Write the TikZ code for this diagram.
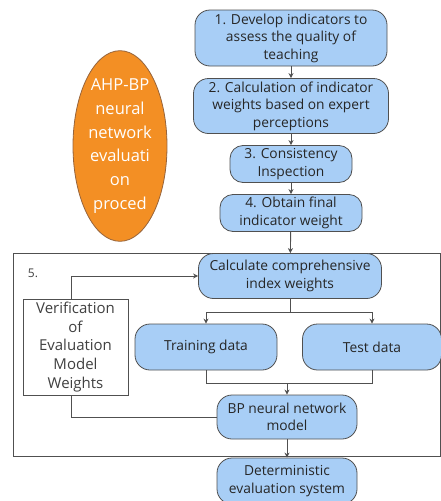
\documentclass[tikz,border=0pt]{standalone}
\usepackage{fontspec}
\setmainfont{Open Sans}
\usetikzlibrary{shapes.geometric,arrows.meta}
\definecolor{boxblue}{RGB}{168,206,246}
\definecolor{edgegray}{RGB}{80,80,80}
\definecolor{orangefill}{RGB}{243,143,36}
\definecolor{orangeedge}{RGB}{150,100,60}
\tikzset{
  stepbox/.style={draw=edgegray, line width=0.8pt, fill=boxblue, rounded corners=15pt,
    align=center, inner sep=0pt, font=\fontsize{13.8}{17.5}\selectfont, text=black!85},
  conn/.style={draw=edgegray, line width=0.9pt},
  arr/.style={conn, -{Stealth[length=5pt,width=5pt]}},
}
\begin{document}
\begin{tikzpicture}[x=1pt,y=-1pt]
\useasboundingbox (0,0) rectangle (441,501);
\clip (0,0) rectangle (441,501);
% outer frame
\draw[edgegray, line width=0.9pt] (13,253) rectangle (440.5,456);
\node[font=\fontsize{12}{14}\selectfont\rmfamily, text=black!75] (five) at (33,273) {5.};
% main steps
\node[stepbox, minimum width=192pt, minimum height=56pt] (s1) at (291,38) {1. Develop indicators to\\assess the quality of\\teaching};
\node[stepbox, minimum width=195pt, minimum height=55pt] (s2) at (291,106) {2. Calculation of indicator\\weights based on expert\\perceptions};
\node[stepbox, minimum width=122pt, minimum height=37pt, rounded corners=13pt] (s3) at (291,164) {3. Consistency\\Inspection};
\node[stepbox, minimum width=142pt, minimum height=37pt, rounded corners=13pt] (s4) at (291,213) {4. Obtain final\\indicator weight};
\node[stepbox, minimum width=183pt, minimum height=45pt] (calc) at (290,276) {Calculate comprehensive\\index weights};
\node[stepbox, minimum width=142pt, minimum height=46pt] (train) at (206,347) {Training data};
\node[stepbox, minimum width=139pt, minimum height=46pt] (test) at (372,347) {Test data};
\node[stepbox, minimum width=140pt, minimum height=44pt] (bp) at (287,417) {BP neural network\\model};
\node[stepbox, minimum width=140pt, minimum height=46pt] (det) at (287,481) {Deterministic\\evaluation system};
% verification box
\node[draw=edgegray, line width=0.8pt, fill=white, minimum width=105pt, minimum height=96pt,
  inner sep=0pt, align=center, font=\fontsize{15}{18.8}\selectfont, text=black!75] (ver) at (75.5,347)
  {Verification\\of\\Evaluation\\Model\\Weights};
% orange ellipse
\node[ellipse, draw=orangeedge, line width=0.8pt, fill=orangefill, minimum width=94pt, minimum height=172pt,
  inner sep=0pt, align=center, text=white, font=\fontsize{16.5}{23.8}\selectfont] (ahp) at (120,146)
  {AHP-BP\\neural\\network\\evaluati\\on\\proced};
% connectors
\draw[arr] (s1) -- (s2);
\draw[arr] (s2) -- (s3);
\draw[arr] (s3) -- (s4);
\draw[arr] (s4) -- (calc);
\coordinate (split) at (290,312);
\draw[conn] (calc.south) -- (split);
\draw[arr] (split) -| (train.north);
\draw[arr] (split) -| (test.north);
\coordinate (merge) at (287,383);
\draw[conn] (train.south) |- (merge);
\draw[conn] (test.south) |- (merge);
\draw[arr] (merge) -- (bp.north);
\draw[arr] (bp) -- (det);
\draw[arr] (ver.north -| 71,0) |- (calc.west);
\draw[conn] (bp.west) -| (ver.south -| 71,0);
\end{tikzpicture}
\end{document}
